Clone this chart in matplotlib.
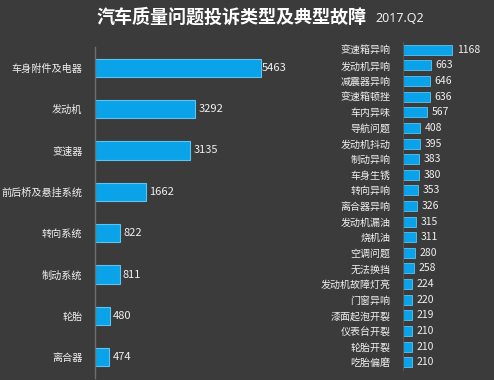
import matplotlib
matplotlib.use("Agg")
import matplotlib.pyplot as plt

plt.rcParams['font.family'] = ['Noto Sans CJK SC', 'DejaVu Sans']

# 左侧：投诉类型
types = ['车身附件及电器', '发动机', '变速器', '前后桥及悬挂系统',
         '转向系统', '制动系统', '轮胎', '离合器']
type_counts = [5463, 3292, 3135, 1662, 822, 811, 480, 474]

# 右侧：典型故障
faults = ['变速箱异响', '发动机异响', '减震器异响', '变速箱顿挫', '车内异味',
          '导航问题', '发动机抖动', '制动异响', '车身生锈', '转向异响',
          '离合器异响', '发动机漏油', '烧机油', '空调问题', '无法换挡',
          '发动机故障灯亮', '门窗异响', '漆面起泡开裂', '仪表台开裂',
          '轮胎开裂', '吃胎偏磨']
fault_counts = [1168, 663, 646, 636, 567, 408, 395, 383, 380, 353, 326,
                315, 311, 280, 258, 224, 220, 219, 210, 210, 210]

BG = '#3b3b3b'
BAR = '#0aa3ea'
EDGE = '#5cc4f0'
TXT = '#f0f0f0'

W, H = 494, 380
fig = plt.figure(figsize=(W / 100, H / 100), dpi=100, facecolor=BG)


def box(x0, y0, x1, y1):
    # pixel box (top-left origin) -> figure fraction
    return [x0 / W, 1 - y1 / H, (x1 - x0) / W, (y1 - y0) / H]


ax1 = fig.add_axes(box(95, 47, 295, 378))
ax1.set_facecolor(BG)
y1 = range(len(types))
ax1.barh(y1, type_counts, height=0.44, color=BAR, edgecolor=EDGE, linewidth=0.8)
ax1.set_xlim(0, 6580)
ax1.set_ylim(len(types) - 0.5, -0.5)
for i, v in enumerate(type_counts):
    off = 20 if v > 5000 else 110
    ax1.text(v + off, i, str(v), va='center', ha='left', color=TXT,
             fontsize=8, clip_on=False)
ax1.set_yticks(list(y1))
ax1.set_yticklabels(types, color=TXT, fontsize=7.3)
ax1.tick_params(axis='y', length=0, pad=9)
ax1.set_xticks([])
for s in ['top', 'right', 'bottom']:
    ax1.spines[s].set_visible(False)
ax1.spines['left'].set_color('#6e6e6e')
ax1.spines['left'].set_linewidth(1)

ax2 = fig.add_axes(box(403, 42, 503, 370))
ax2.set_facecolor('none')
y2 = range(len(faults))
ax2.barh(y2, fault_counts, height=0.64, color=BAR, edgecolor=EDGE, linewidth=0.6)
ax2.set_xlim(0, 2384)
ax2.set_ylim(len(faults) - 0.5, -0.5)
for i, v in enumerate(fault_counts):
    ax2.text(v + 110, i, str(v), va='center', ha='left', color=TXT,
             fontsize=7.5, clip_on=False)
ax2.set_yticks(list(y2))
ax2.set_yticklabels(faults, color=TXT, fontsize=7.2)
ax2.tick_params(axis='y', length=0, pad=9)
ax2.set_xticks([])
for s in ['top', 'right', 'bottom']:
    ax2.spines[s].set_visible(False)
ax2.spines['left'].set_color('#555555')
ax2.spines['left'].set_linewidth(0.8)

fig.text(96 / W, 1 - 17 / H, '汽车质量问题投诉类型及典型故障', color='white',
         fontsize=13, fontweight='bold', va='center', ha='left')
fig.text(375 / W, 1 - 19 / H, '2017.Q2', color=TXT, fontsize=9,
         va='center', ha='left', family=['Noto Sans', 'DejaVu Sans'])

fig.savefig('out.png', dpi=100, facecolor=BG)
